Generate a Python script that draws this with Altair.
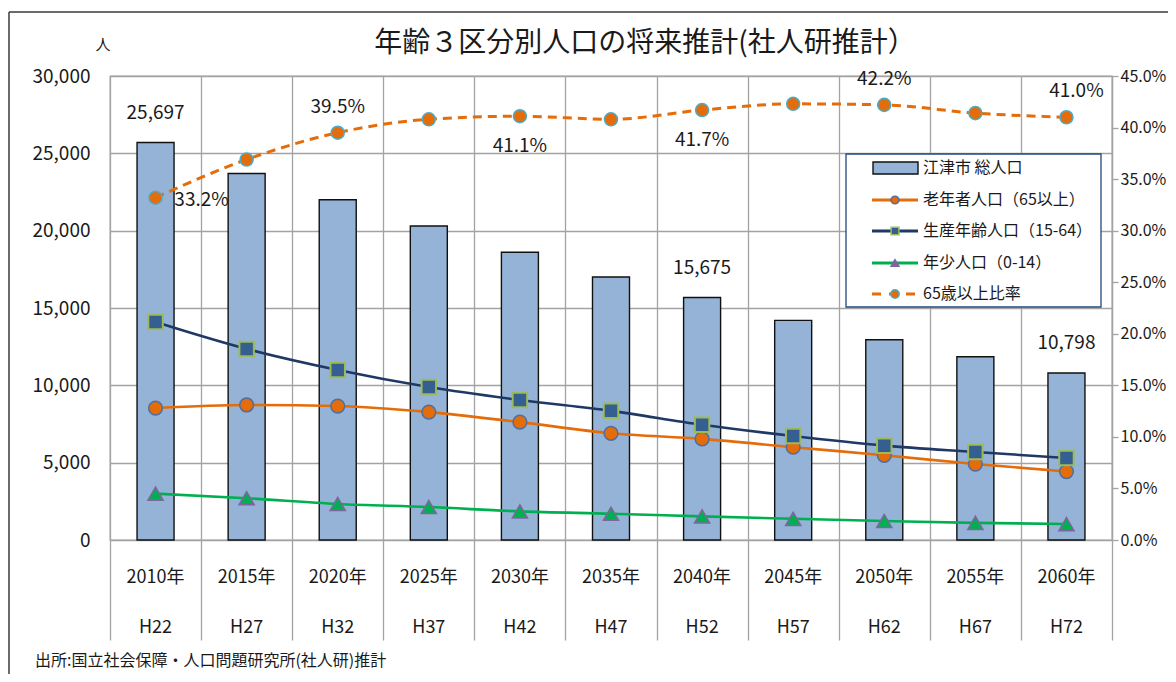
import altair as alt
import pandas as pd

# ---------------- data ----------------
years = ["2010年", "2015年", "2020年", "2025年", "2030年", "2035年",
         "2040年", "2045年", "2050年", "2055年", "2060年"]
heisei = ["H22", "H27", "H32", "H37", "H42", "H47", "H52", "H57", "H62", "H67", "H72"]
total = [25697, 23700, 22000, 20300, 18600, 17000, 15675, 14200, 12950, 11850, 10798]
elderly = [8530, 8730, 8660, 8270, 7620, 6900, 6536, 6000, 5480, 4910, 4427]
working = [14090, 12350, 10990, 9890, 9050, 8350, 7450, 6720, 6100, 5690, 5300]
youth = [3000, 2700, 2330, 2130, 1850, 1700, 1530, 1370, 1230, 1110, 1030]
ratio = [33.2, 36.9, 39.5, 40.8, 41.1, 40.8, 41.7, 42.3, 42.2, 41.4, 41.0]

series_names = ["江津市 総人口", "老年者人口（65以上）", "生産年齢人口（15-64）",
                "年少人口（0-14）", "65歳以上比率"]
title_text = "年齢３区分別人口の将来推計(社人研推計）"
unit_text = "人"
source_text = "出所:国立社会保障・人口問題研究所(社人研)推計"

bar_label_years = ["2010年", "2040年", "2060年"]
ratio_above = ["2020年", "2050年"]
ratio_above_right = ["2060年"]
ratio_below = ["2030年", "2040年"]
ratio_right = ["2010年"]

# ---------------- style ----------------
FONT = "Noto Sans CJK JP"
TXT = "#1a1a1a"
GRID = "#A3A3A3"
W, H = 1002, 464

BAR_FILL = "#95B3D7"
ORANGE = "#E46C0A"
NAVY = "#1F3864"
SQ_FILL = "#365F91"
SQ_STROKE = "#9BBB59"
GREEN = "#00B050"
PURPLE = "#8064A2"
CIRC_STROKE = "#4F6FA0"
CYAN = "#4BACC6"

df = pd.DataFrame({
    "year": years, "heisei": heisei, "total": total, "elderly": elderly,
    "working": working, "youth": youth, "ratio": ratio,
})

x_axis = alt.Axis(labels=False, title=None, domain=False,
                  ticks=True, tickSize=100, tickColor=GRID, tickWidth=1.3,
                  tickBand="extent", grid=True, gridColor=GRID, gridWidth=1.3)
xn = alt.X("year:N", sort=years,
           scale=alt.Scale(paddingInner=0, paddingOuter=0), axis=x_axis)

pop_scale = alt.Scale(domain=[0, 30000], nice=False)
y_left = alt.Y("total:Q", scale=pop_scale,
               axis=alt.Axis(values=list(range(0, 30001, 5000)), format=",.0f",
                             labelFontSize=19, labelFont=FONT, labelColor=TXT,
                             labelPadding=20, ticks=False, domain=False,
                             grid=True, gridColor=GRID, gridWidth=1.3, title=None))

base = alt.Chart(df)

bars = base.mark_bar(size=37, fill=BAR_FILL, stroke="#111111", strokeWidth=1.4).encode(
    x=xn, y=y_left)


def pop_line(field, color):
    return base.mark_line(color=color, strokeWidth=2.6, interpolate="monotone").encode(
        x=xn, y=alt.Y(f"{field}:Q", scale=pop_scale, axis=None))


def pop_points(field, shape, fill, stroke, size, sw):
    return base.mark_point(shape=shape, filled=True, fill=fill, stroke=stroke,
                           strokeWidth=sw, size=size, opacity=1).encode(
        x=xn, y=alt.Y(f"{field}:Q", scale=pop_scale, axis=None))


lines = [
    pop_line("elderly", ORANGE),
    pop_line("working", NAVY),
    pop_line("youth", GREEN),
]
points = [
    pop_points("elderly", "circle", ORANGE, CIRC_STROKE, 190, 1.5),
    pop_points("working", "square", SQ_FILL, SQ_STROKE, 210, 2),
    pop_points("youth", "triangle-up", GREEN, PURPLE, 230, 1.5),
]

bar_labels = base.transform_filter(
    alt.FieldOneOfPredicate(field="year", oneOf=bar_label_years)
).mark_text(font=FONT, fontSize=19, color=TXT, dy=-30, baseline="middle").encode(
    x=xn, y=alt.Y("total:Q", scale=pop_scale, axis=None),
    text=alt.Text("total:Q", format=","))

xlab1 = base.mark_text(font=FONT, fontSize=18, color=TXT, baseline="middle").encode(
    x=xn, y=alt.value(H + 38), text="year:N")
xlab2 = base.mark_text(font=FONT, fontSize=18, color=TXT, baseline="middle").encode(
    x=xn, y=alt.value(H + 88), text="heisei:N")

# ---------------- ratio (right axis) ----------------
rat_scale = alt.Scale(domain=[0, 45], nice=False)
y_right = alt.Y("ratio:Q", scale=rat_scale,
                axis=alt.Axis(orient="right", values=list(range(0, 46, 5)),
                              labelExpr="format(datum.value, '.1f') + '%'",
                              labelFontSize=16, labelFont=FONT, labelColor=TXT,
                              labelPadding=2, ticks=True, tickSize=6, tickColor=GRID,
                              tickWidth=1.3, domain=True, domainColor=GRID,
                              domainWidth=1.3, grid=False, title=None))
yr = alt.Y("ratio:Q", scale=rat_scale, axis=None)

ratio_line = base.mark_line(color=ORANGE, strokeWidth=3, strokeDash=[9, 6],
                            interpolate="monotone").encode(x=xn, y=y_right)
ratio_pts = base.mark_point(shape="circle", filled=True, fill=ORANGE, stroke=CYAN,
                            strokeWidth=1.5, size=170, opacity=1).encode(x=xn, y=yr)

rbase = base.transform_calculate(lbl="format(datum.ratio, '.1f') + '%'")


def ratio_text(years_sel, dx, dy):
    return rbase.transform_filter(
        alt.FieldOneOfPredicate(field="year", oneOf=years_sel)
    ).mark_text(font=FONT, fontSize=19, color=TXT, dx=dx, dy=dy, baseline="middle").encode(
        x=xn, y=yr, text="lbl:N")


r_above = ratio_text(ratio_above, 0, -26)
r_above_right = ratio_text(ratio_above_right, 10, -26)
r_below = ratio_text(ratio_below, 0, 30)
r_right = ratio_text(ratio_right, 46, 2)

# ---------------- decorations ----------------
one = alt.Chart(pd.DataFrame({"k": [0]}))

frame_left = one.mark_rule(color="#3a3a3a", strokeWidth=1.5).encode(
    x=alt.value(-101), y=alt.value(-64), y2=alt.value(H + 300))
frame_top = one.mark_rule(color="#3a3a3a", strokeWidth=1.5).encode(
    x=alt.value(-101), x2=alt.value(W + 200), y=alt.value(-64))

title = one.mark_text(font=FONT, fontSize=28, color=TXT, baseline="middle", align="center").encode(
    x=alt.value(535), y=alt.value(-32), text=alt.value(title_text))
unit = one.mark_text(font=FONT, fontSize=15, color=TXT, baseline="middle", align="center").encode(
    x=alt.value(-7), y=alt.value(-31), text=alt.value(unit_text))
source = one.mark_text(font=FONT, fontSize=16, color=TXT, baseline="middle", align="left").encode(
    x=alt.value(-75), y=alt.value(H + 121), text=alt.value(source_text))

# legend
LX0, LX1, LY0, LY1 = 736, 991, 78, 231
rows = [92, 124, 155, 187, 218]
SW0, SW1, SWC, TX = 762, 808, 785, 813

legend_layers = [
    one.mark_rect(fill="white", stroke="#1F497D", strokeWidth=1.3).encode(
        x=alt.value(LX0), x2=alt.value(LX1), y=alt.value(LY0), y2=alt.value(LY1)),
    one.mark_rect(fill=BAR_FILL, stroke="#111111", strokeWidth=1.4).encode(
        x=alt.value(SW0 + 1), x2=alt.value(SW1), y=alt.value(rows[0] - 6), y2=alt.value(rows[0] + 6)),
]
leg_specs = [
    (ORANGE, [], "circle", ORANGE, CIRC_STROKE, 60),
    (NAVY, [], "square", SQ_FILL, SQ_STROKE, 60),
    (GREEN, [], "triangle-up", PURPLE, PURPLE, 60),
    (ORANGE, [9, 8], "circle", ORANGE, CYAN, 70),
]
for i, (lc, dash, shp, fc, sc, sz) in enumerate(leg_specs):
    yy = rows[i + 1]
    if dash:
        rule = one.mark_rule(color=lc, strokeWidth=3, strokeDash=dash)
    else:
        rule = one.mark_rule(color=lc, strokeWidth=3)
    legend_layers.append(rule.encode(x=alt.value(SW0), x2=alt.value(SW1), y=alt.value(yy)))
    legend_layers.append(
        one.mark_point(shape=shp, filled=True, fill=fc, stroke=sc, strokeWidth=1.5,
                       size=sz, opacity=1).encode(x=alt.value(SWC), y=alt.value(yy)))
for i, name in enumerate(series_names):
    legend_layers.append(
        one.mark_text(font=FONT, fontSize=16, color=TXT, align="left", baseline="middle").encode(
            x=alt.value(TX), y=alt.value(rows[i]), text=alt.value(name)))

chart = alt.layer(
    bars, *lines, *points, bar_labels, xlab1, xlab2,
    ratio_line, ratio_pts, r_above, r_above_right, r_below, r_right,
    frame_left, frame_top, title, unit, source, *legend_layers,
).resolve_scale(y="independent").properties(
    width=W, height=H,
    autosize=alt.AutoSizeParams(type="none"),
    padding={"left": 102, "top": 68, "right": 56, "bottom": 134},
    background="white",
).configure_view(stroke=GRID, strokeWidth=1.3)

chart.save("out.html", embed_options={"renderer": "svg", "actions": False})
